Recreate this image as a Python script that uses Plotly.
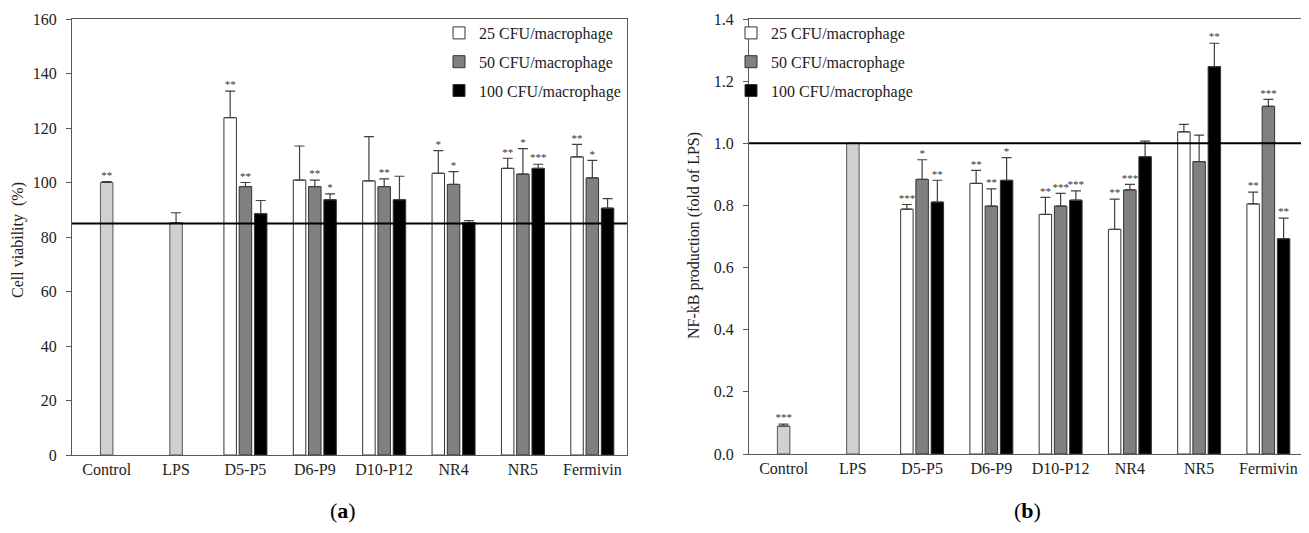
import plotly.graph_objects as go
from plotly.subplots import make_subplots

# ---------------- data ----------------
categories = ["Control", "LPS", "D5-P5", "D6-P9", "D10-P12", "NR4", "NR5", "Fermivin"]
series_names = ["25 CFU/macrophage", "50 CFU/macrophage", "100 CFU/macrophage"]

# panel (a): cell viability (%)
a_single = [100.0, 85.2]          # Control, LPS
a_single_err = [0.3, 3.7]
a_single_sig = ["**", ""]
a25 = [123.8, 100.9, 100.6, 103.4, 105.2, 109.4]
a25_err = [9.7, 12.5, 16.2, 8.3, 3.7, 4.6]
a25_sig = ["**", "", "", "*", "**", "**"]
a50 = [98.5, 98.5, 98.5, 99.3, 103.1, 101.7]
a50_err = [1.5, 2.4, 2.8, 4.7, 9.3, 6.4]
a50_sig = ["**", "**", "**", "*", "*", "*"]
a100 = [88.6, 93.7, 93.7, 85.3, 105.2, 90.6]
a100_err = [4.8, 2.1, 8.6, 0.7, 1.5, 3.5]
a100_sig = ["", "*", "", "", "***", ""]
a_ref = 85

# panel (b): NF-kB production (fold of LPS)
b_single = [0.09, 1.0]
b_single_err = [0.006, 0.0]
b_single_sig = ["***", ""]
b25 = [0.788, 0.871, 0.771, 0.723, 1.037, 0.805]
b25_err = [0.015, 0.042, 0.055, 0.097, 0.024, 0.038]
b25_sig = ["***", "**", "**", "**", "", "**"]
b50 = [0.884, 0.798, 0.798, 0.850, 0.941, 1.119]
b50_err = [0.063, 0.055, 0.041, 0.018, 0.085, 0.022]
b50_sig = ["*", "**", "***", "***", "", "***"]
b100 = [0.811, 0.881, 0.817, 0.957, 1.247, 0.693]
b100_err = [0.070, 0.073, 0.030, 0.050, 0.075, 0.066]
b100_sig = ["**", "*", "***", "", "**", "**"]
b_ref = 1.0

# ---------------- style ----------------
FONT = "Liberation Serif"
fills = ["#ffffff", "#808080", "#000000"]
single_fill = "#d0d0d0"
outline = "#333333"
errc = "#404040"
offsets = [-0.22, 0.0, 0.22]
BW = 0.18
W, H = 1309, 533
PAGE_OFF = 8  # default body margin of the html page

def px_x(p):
    return (p - PAGE_OFF) / W

def px_y(p):
    return 1 - (p - PAGE_OFF) / H

fig = make_subplots(rows=1, cols=2)

def add_panel(col, single, single_err, single_sig, groups, errs, sigs, legend_name):
    xs_single = [0, 1]
    fig.add_trace(go.Bar(
        x=xs_single, y=single, width=BW,
        marker=dict(color=single_fill, line=dict(color="#555555", width=1)),
        error_y=dict(type="data", symmetric=False, array=single_err,
                     arrayminus=[0] * len(single_err), color=errc, thickness=1.2, width=5),
        showlegend=False, hoverinfo="y"), row=1, col=col)
    fig.add_trace(go.Scatter(
        x=xs_single, y=[v + e for v, e in zip(single, single_err)], text=single_sig,
        mode="text", textposition="top center",
        textfont=dict(family=FONT, size=11, color="#333333"),
        showlegend=False, hoverinfo="skip", cliponaxis=False), row=1, col=col)
    for j, (vals, er, sg) in enumerate(zip(groups, errs, sigs)):
        xs = [i + 2 + offsets[j] for i in range(len(vals))]
        fig.add_trace(go.Bar(
            x=xs, y=vals, width=BW, name=series_names[j],
            legend=legend_name, legendgroup=f"{legend_name}{j}",
            marker=dict(color=fills[j], line=dict(color=outline, width=1)),
            error_y=dict(type="data", symmetric=False, array=er,
                         arrayminus=[0] * len(er), color=errc, thickness=1.2, width=5),
            hoverinfo="y"), row=1, col=col)
        fig.add_trace(go.Scatter(
            x=xs, y=[v + e for v, e in zip(vals, er)], text=sg,
            mode="text", textposition="top center",
            textfont=dict(family=FONT, size=11, color="#333333"),
            showlegend=False, hoverinfo="skip", cliponaxis=False), row=1, col=col)

add_panel(1, a_single, a_single_err, a_single_sig, [a25, a50, a100],
          [a25_err, a50_err, a100_err], [a25_sig, a50_sig, a100_sig], "legend")
add_panel(2, b_single, b_single_err, b_single_sig, [b25, b50, b100],
          [b25_err, b50_err, b100_err], [b25_sig, b50_sig, b100_sig], "legend2")

axis_common = dict(showgrid=False, zeroline=False, showline=True, mirror=True,
                   linecolor="#595959", linewidth=1.2, automargin=False,
                   tickfont=dict(family=FONT, size=16, color="#222222"))

fig.update_xaxes(range=[-0.5, 7.5], tickvals=list(range(len(categories))),
                 ticktext=categories, ticks="", ticklabelstandoff=0, **axis_common)
fig.update_yaxes(ticks="outside", ticklen=5, tickcolor="#595959", ticklabelstandoff=6,
                 **axis_common)
fig.update_yaxes(range=[0, 160], dtick=20, row=1, col=1)
fig.update_yaxes(range=[0, 1.4], dtick=0.2, tickformat=".1f", row=1, col=2)

fig.update_layout(
    xaxis=dict(domain=[px_x(72), px_x(627)]),
    xaxis2=dict(domain=[px_x(749), px_x(1303)]),
    yaxis=dict(domain=[px_y(455), px_y(19)]),
    yaxis2=dict(domain=[px_y(454), px_y(19)]),
)

fig.add_shape(type="line", xref="x domain", yref="y", x0=0, x1=1, y0=a_ref, y1=a_ref,
              line=dict(color="black", width=2))
fig.add_shape(type="line", xref="x2 domain", yref="y2", x0=0, x1=1, y0=b_ref, y1=b_ref,
              line=dict(color="black", width=2))

legend_style = dict(font=dict(family=FONT, size=16, color="#222222"),
                    bgcolor="rgba(0,0,0,0)", traceorder="grouped", tracegroupgap=5,
                    xanchor="left", yanchor="top", itemclick=False)
fig.update_layout(
    legend=dict(x=px_x(439), y=px_y(16), **legend_style),
    legend2=dict(x=px_x(731), y=px_y(16), **legend_style),
)

ann_font = dict(family=FONT, size=16, color="#222222")
fig.add_annotation(text="Cell viability  (%)", xref="paper", yref="paper",
                   x=px_x(18), y=px_y(240), xanchor="center", yanchor="middle",
                   textangle=-90, showarrow=False, font=ann_font)
fig.add_annotation(text="NF-kB production (fold of LPS)", xref="paper", yref="paper",
                   x=px_x(694), y=px_y(236), xanchor="center", yanchor="middle",
                   textangle=-90, showarrow=False, font=ann_font)
fig.add_annotation(text="(<b>a</b>)", xref="paper", yref="paper",
                   x=px_x(343), y=px_y(510), xanchor="center", yanchor="middle",
                   showarrow=False, font=dict(family=FONT, size=22, color="black"))
fig.add_annotation(text="(<b>b</b>)", xref="paper", yref="paper",
                   x=px_x(1027), y=px_y(510), xanchor="center", yanchor="middle",
                   showarrow=False, font=dict(family=FONT, size=22, color="black"))

fig.update_layout(width=W, height=H, margin=dict(l=0, r=0, t=0, b=0),
                  paper_bgcolor="white", plot_bgcolor="white",
                  barmode="overlay", template="none")

fig.write_html("out.html")
